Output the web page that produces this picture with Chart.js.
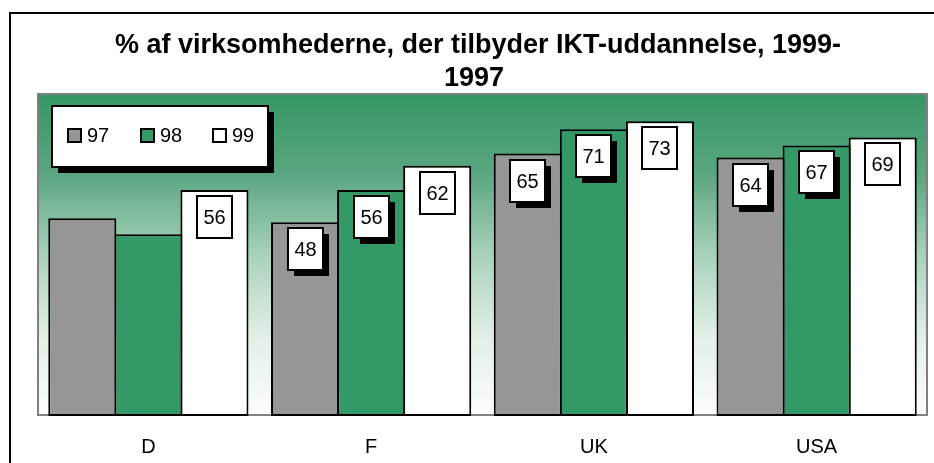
<!DOCTYPE html>
<html>
<head>
<meta charset="utf-8">
<script src="https://cdn.jsdelivr.net/npm/chart.js@4.4.0/dist/chart.umd.min.js"></script>
<style>
  html, body { margin: 0; padding: 0; background: #ffffff; }
  canvas { display: block; }
</style>
</head>
<body>
<canvas id="chart" width="934" height="463"></canvas>
<script>
(function () {
    var titleLines = ['% af virksomhederne, der tilbyder IKT-uddannelse, 1999-', '1997'];
    var countries = ['D', 'F', 'UK', 'USA'];
    var years = ['97', '98', '99'];
    var values97 = [49, 48, 65, 64];
    var values98 = [45, 56, 71, 67];
    var values99 = [56, 62, 73, 69];
    // D has no printed value for 97 and 98 in the source chart
    var noLabel = [[0, 0], [1, 0]];

    var gray = '#969696';
    var green = '#339966';
    var white = '#ffffff';
    var font = '"Liberation Sans", Arial, sans-serif';

    function series(i, values, colour) {
        return {
            label: years[i],
            data: values,
            backgroundColor: colour,
            borderColor: '#000000',
            borderWidth: 2,
            borderSkipped: false,
            barPercentage: 1.03,
            categoryPercentage: 0.89
        };
    }

    // white page, black frame, title and the green-to-white plot background
    var backdrop = {
        id: 'backdrop',
        beforeDraw: function (chart) {
            var ctx = chart.ctx, a = chart.chartArea;
            ctx.save();
            ctx.fillStyle = '#ffffff';
            ctx.fillRect(0, 0, chart.width, chart.height);
            ctx.strokeStyle = '#000000';
            ctx.lineWidth = 2;
            ctx.strokeRect(10, 13, chart.width + 20, chart.height + 20);

            ctx.fillStyle = '#000000';
            ctx.font = 'bold 27px ' + font;
            ctx.textAlign = 'center';
            ctx.textBaseline = 'middle';
            ctx.fillText(titleLines[0], 478, 46);
            ctx.fillText(titleLines[1], 474, 79);

            var g = ctx.createLinearGradient(0, a.top, 0, a.bottom);
            g.addColorStop(0, 'rgb(52,150,101)');
            g.addColorStop(0.25, 'rgb(90,166,128)');
            g.addColorStop(0.5, 'rgb(168,209,187)');
            g.addColorStop(0.75, 'rgb(226,239,231)');
            g.addColorStop(1, 'rgb(252,253,252)');
            ctx.fillStyle = g;
            ctx.fillRect(a.left, a.top, a.right - a.left, a.bottom - a.top);
            ctx.strokeStyle = '#808080';
            ctx.lineWidth = 2;
            ctx.strokeRect(a.left + 1, a.top + 1, a.right - a.left - 2, a.bottom - a.top - 2);
            ctx.restore();
        }
    };

    function shadowBox(ctx, x, y, w, h, shadow) {
        if (shadow) {
            ctx.fillStyle = '#000000';
            ctx.fillRect(x + shadow, y + shadow, w, h);
        }
        ctx.fillStyle = '#ffffff';
        ctx.fillRect(x, y, w, h);
        ctx.strokeStyle = '#000000';
        ctx.lineWidth = 2;
        ctx.strokeRect(x, y, w, h);
    }

    var valueBoxes = {
        id: 'valueBoxes',
        afterDatasetsDraw: function (chart) {
            var ctx = chart.ctx;
            ctx.save();
            ctx.font = '20px ' + font;
            ctx.textAlign = 'center';
            ctx.textBaseline = 'middle';
            chart.data.datasets.forEach(function (ds, i) {
                chart.getDatasetMeta(i).data.forEach(function (bar, j) {
                    var skip = noLabel.some(function (p) { return p[0] === i && p[1] === j; });
                    if (skip) return;
                    var w = 35, h = 42;
                    var x = Math.round(bar.x - w / 2), y = Math.round(bar.y + 6);
                    shadowBox(ctx, x, y, w, h, ds.backgroundColor === white ? 0 : 6);
                    ctx.fillStyle = '#000000';
                    ctx.fillText(String(ds.data[j]), x + w / 2, y + h / 2 + 1);
                });
            });
            ctx.restore();
        }
    };

    var legendBox = {
        id: 'legendBox',
        afterDraw: function (chart) {
            var ctx = chart.ctx;
            ctx.save();
            shadowBox(ctx, 52, 106, 216, 61, 6);
            ctx.font = '20px ' + font;
            ctx.textAlign = 'left';
            ctx.textBaseline = 'middle';
            var xs = [68, 141, 213];
            chart.data.datasets.forEach(function (ds, i) {
                ctx.fillStyle = ds.backgroundColor;
                ctx.fillRect(xs[i], 129, 13, 13);
                ctx.strokeStyle = '#000000';
                ctx.lineWidth = 2;
                ctx.strokeRect(xs[i], 129, 13, 13);
                ctx.fillStyle = '#000000';
                ctx.fillText(ds.label, xs[i] + 19, 136);
            });
            ctx.restore();
        }
    };

    new Chart(document.getElementById('chart'), {
        type: 'bar',
        data: {
            labels: countries,
            datasets: [
                series(0, values97, gray),
                series(1, values98, green),
                series(2, values99, white)
            ]
        },
        options: {
            responsive: false,
            animation: false,
            layout: { padding: { left: 37, right: 6, top: 93, bottom: 0 } },
            plugins: {
                legend: { display: false },
                title: { display: false },
                tooltip: { enabled: false }
            },
            scales: {
                x: {
                    grid: { display: false },
                    border: { display: false },
                    ticks: { color: '#000000', padding: 11, font: { family: font, size: 20 } },
                    afterFit: function (scale) { scale.height = 47; }
                },
                y: { display: false, min: 0, max: 80 }
            }
        },
        plugins: [backdrop, valueBoxes, legendBox]
    });
})();
</script>
</body>
</html>
